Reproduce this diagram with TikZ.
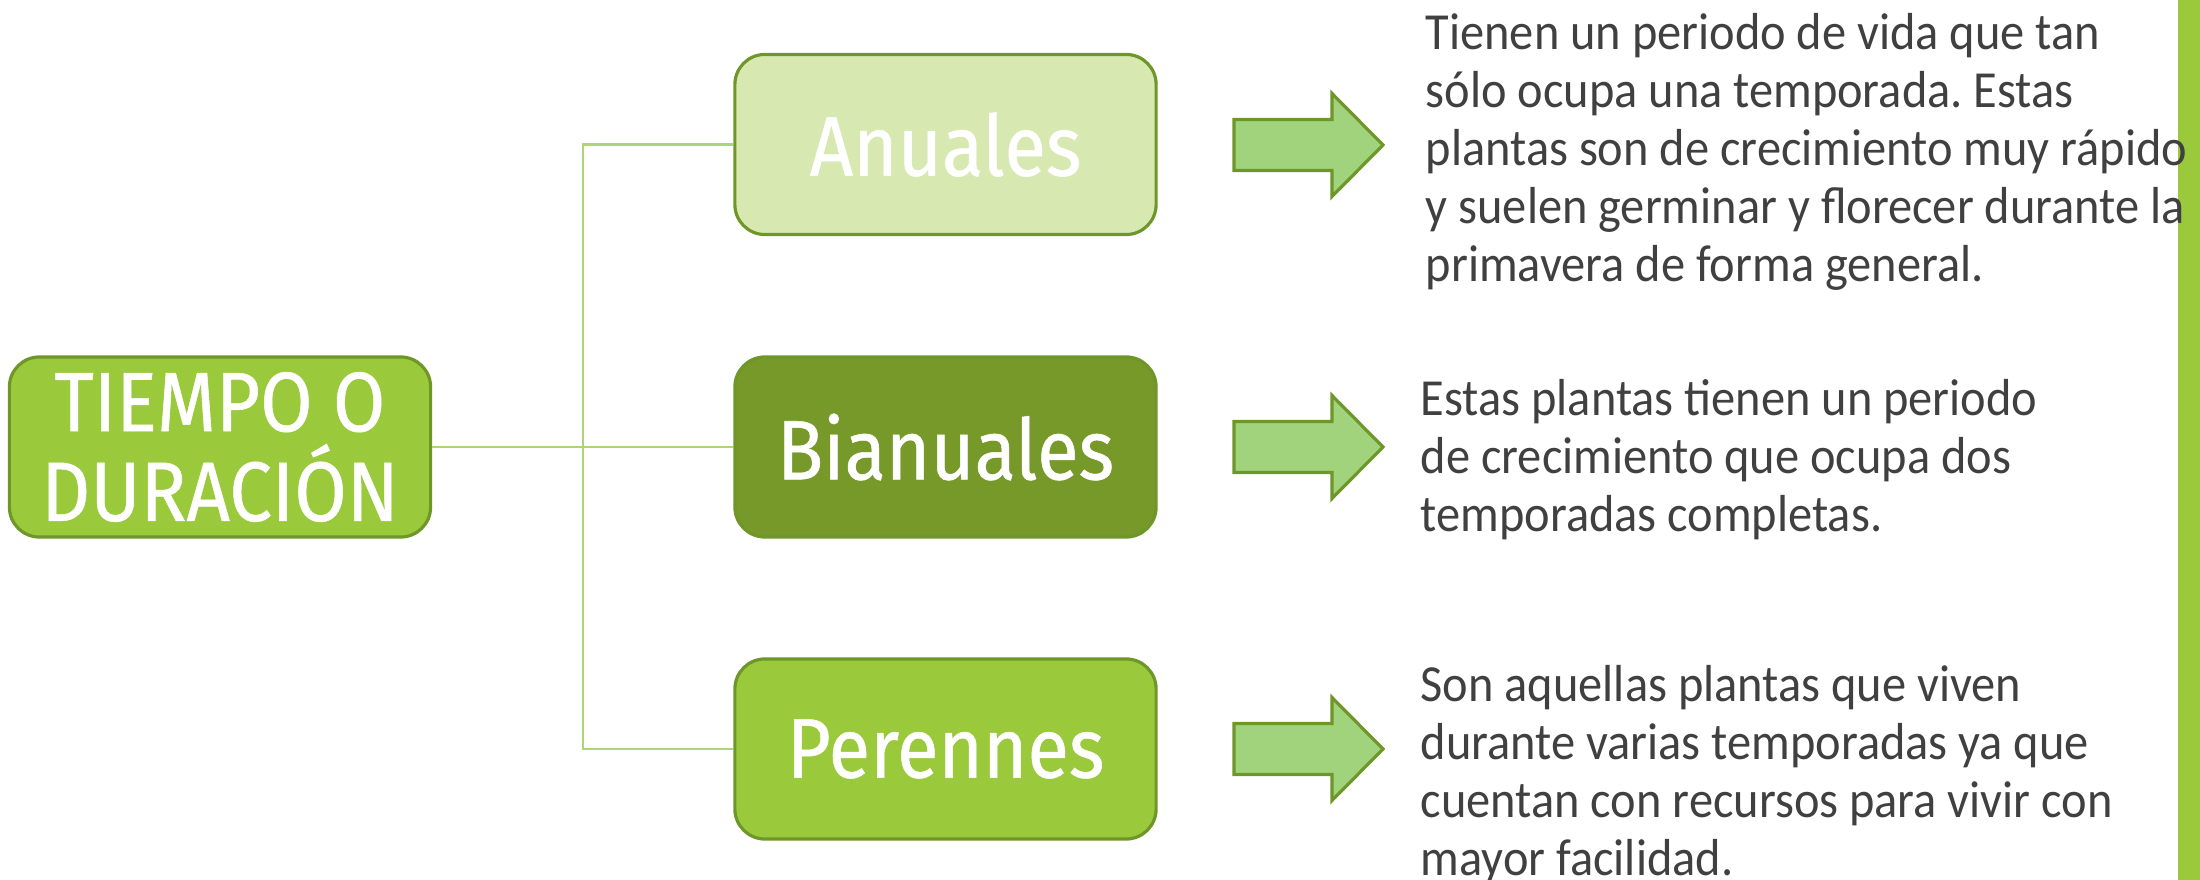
\documentclass[tikz,border=0pt]{standalone}
\usepackage{fontspec}
\setmainfont{Carlito}[FakeStretch=0.93]
\newfontfamily\labelfont{Fira Sans}[FakeStretch=0.9,FakeBold=0.6]
\frenchspacing
\definecolor{bright}{RGB}{154,202,60}
\definecolor{pale}{RGB}{215,233,177}
\definecolor{dark}{RGB}{118,153,42}
\definecolor{edge}{RGB}{110,150,40}
\definecolor{link}{RGB}{172,212,120}
\definecolor{arrowfill}{RGB}{160,211,124}
\definecolor{txt}{RGB}{64,64,64}
\tikzset{
  box/.style={draw=edge, line width=0.9pt, rounded corners=0.3cm,
    minimum width=4.21cm, minimum height=1.80cm, inner sep=0pt,
    text=white, align=center, font=\labelfont\fontsize{24}{25.5}\selectfont},
  desc/.style={anchor=north west, inner sep=0pt, align=left, text=txt,
    font=\fontsize{14.8}{16.5}\selectfont},
  linkline/.style={draw=link, line width=0.6pt},
  fatarrow/.style={draw=edge, fill=arrowfill, line width=0.9pt, line join=miter}
}
\newcommand{\fatarrowat}[1]{%
  \path[fatarrow] (1234,#1-25.5) -- (1332,#1-25.5) -- (1332,#1-51.5) -- (1383,#1)
    -- (1332,#1+51.5) -- (1332,#1+25.5) -- (1234,#1+25.5) -- cycle;}
\begin{document}
\begin{tikzpicture}[x=0.01cm,y=-0.01cm]
\useasboundingbox (0,0) rectangle (2200,880);
\fill[bright] (2178,0) rectangle (2200,880);
% boxes
\node[box, fill=bright] (root) at (220,447) {TIEMPO O\\DURACIÓN};
\node[box, fill=pale] (anu) at (945.5,144.5) {Anuales};
\node[box, fill=dark] (bia) at (945.5,447) {Bianuales};
\node[box, fill=bright] (per) at (945.5,749) {Perennes};
% connectors
\coordinate (j) at (583,447);
\draw[linkline] (root.east) -- (j) -- (bia.west);
\draw[linkline] (j) |- (anu.west);
\draw[linkline] (j) |- (per.west);
% arrows
\fatarrowat{145}
\fatarrowat{447}
\fatarrowat{749}
% descriptions
\node[desc] (danu) at (1425,13) {Tienen un periodo de vida que tan\\sólo ocupa una temporada. Estas\\plantas son de crecimiento muy rápido\\y suelen germinar y florecer durante la\\primavera de forma general.};
\node[desc] (dbia) at (1420,379) {Estas plantas tienen un periodo\\de crecimiento que ocupa dos\\temporadas completas.};
\node[desc] (dper) at (1420,665) {Son aquellas plantas que viven\\durante varias temporadas ya que\\cuentan con recursos para vivir con\\mayor facilidad.};
\end{tikzpicture}
\end{document}
